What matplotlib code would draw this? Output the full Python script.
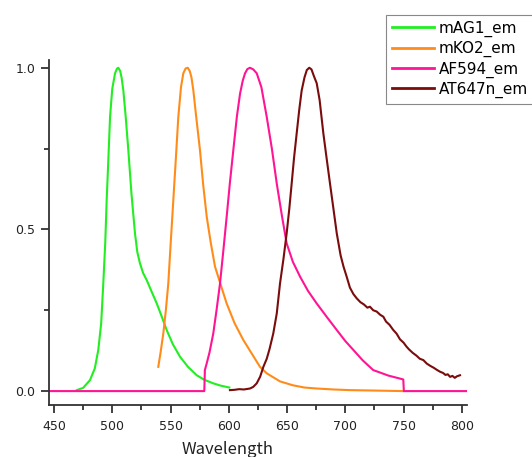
import matplotlib
matplotlib.use("Agg")
import matplotlib.pyplot as plt
from matplotlib.ticker import MultipleLocator

# ---- data ----
mag1_x = [469.5, 475, 480.9, 485, 488, 490.5, 492.3, 494, 495.2, 496.8, 498.1, 500, 502.4, 504, 505.2, 506.8,
          508, 509.5, 511.5, 513.8, 516.5, 519.5, 521.5, 523.8, 526.5, 529.6, 533.5, 538.2, 542, 546.7, 552,
          558.2, 565, 572.5, 579, 586.7, 593, 600.5]
mag1_y = [0.003, 0.01, 0.034, 0.07, 0.127, 0.21, 0.333, 0.46, 0.59, 0.73, 0.848, 0.935, 0.983, 0.997, 1.0, 0.99,
          0.97, 0.93, 0.85, 0.745, 0.61, 0.488, 0.43, 0.395, 0.365, 0.343, 0.31, 0.271, 0.235, 0.189, 0.145,
          0.106, 0.075, 0.049, 0.035, 0.024, 0.017, 0.011]

mko2_x = [539.5, 541.5, 543.8, 546, 548.1, 550.2, 552.4, 554.6, 556.7, 559, 561, 563, 564.8, 566.5, 568,
          569.6, 572, 575.3, 578, 581.1, 584.5, 588.2, 593, 598.2, 605, 612.5, 618.2, 626.8, 632.6, 644,
          655, 665, 675.5, 690, 704, 720, 735, 750]
mko2_y = [0.075, 0.12, 0.178, 0.25, 0.333, 0.46, 0.59, 0.72, 0.848, 0.94, 0.983, 0.998, 1.0, 0.99, 0.97,
          0.93, 0.85, 0.745, 0.64, 0.539, 0.46, 0.385, 0.33, 0.271, 0.21, 0.158, 0.125, 0.075, 0.055, 0.03,
          0.018, 0.011, 0.008, 0.005, 0.003, 0.002, 0.001, 0.0]

af594_x = [446, 579, 579.5, 581.1, 583.5, 586.7, 589.5, 592.5, 595.5, 598.2, 601, 603.9, 607, 609.7, 612,
           614, 616, 618.2, 621, 624, 628, 632.6, 637, 641.2, 645.5, 649.7, 655, 661.2, 668, 675.5, 684,
           692.7, 700, 707, 715, 724, 737, 749.8, 750.3, 805]
af594_y = [0.0, 0.0, 0.065, 0.086, 0.12, 0.178, 0.25, 0.333, 0.44, 0.539, 0.645, 0.745, 0.85, 0.92, 0.96,
           0.983, 0.996, 1.0, 0.995, 0.983, 0.94, 0.848, 0.75, 0.642, 0.545, 0.457, 0.4, 0.354, 0.31, 0.271,
           0.23, 0.189, 0.155, 0.127, 0.095, 0.065, 0.048, 0.036, 0.0, 0.0]

at647_x = [601, 605, 609, 613, 618.2, 621, 624, 627, 629.7, 632.6, 635, 638.2, 641.2, 644, 647, 649.7,
           652, 654, 656, 658.3, 660.5, 662.6, 665, 667, 669.1, 671, 673, 675.5, 678, 681.2, 684, 686.9,
           690, 692.7, 696, 698.5, 701.2, 704, 707, 709.8, 713, 716, 719, 721.2, 724, 727, 730, 732.7,
           735, 738, 741.2, 744, 747, 750, 752.7, 755, 758, 761, 764, 767, 770, 773, 776, 778.5, 781.3,
           784, 786, 788, 790, 792, 794, 796, 798.5]
at647_y = [0.003, 0.004, 0.006, 0.005, 0.008, 0.013, 0.024, 0.045, 0.075, 0.1, 0.13, 0.178, 0.24, 0.333,
           0.41, 0.488, 0.565, 0.642, 0.72, 0.797, 0.87, 0.93, 0.97, 0.993, 1.0, 0.995, 0.975, 0.952,
           0.9, 0.797, 0.72, 0.642, 0.56, 0.488, 0.42, 0.385, 0.354, 0.32, 0.3, 0.287, 0.275, 0.268,
           0.258, 0.261, 0.25, 0.246, 0.236, 0.23, 0.215, 0.205, 0.189, 0.178, 0.16, 0.15, 0.137, 0.128,
           0.118, 0.11, 0.1, 0.096, 0.085, 0.078, 0.072, 0.066, 0.06, 0.056, 0.05, 0.052, 0.044, 0.047,
           0.041, 0.046, 0.049]

labels = ["mAG1_em", "mKO2_em", "AF594_em", "AT647n_em"]
colors = ["#22ee22", "#ff8c1a", "#ff1493", "#7a0c0c"]
xticks = [450, 500, 550, 600, 650, 700, 750, 800]
yticks = [0.0, 0.5, 1.0]

# ---- figure ----
W, H = 532, 457
fig = plt.figure(figsize=(W / 100, H / 100), dpi=100)
L, R, B, T = 49, 467, 405, 60
ax = fig.add_axes([L / W, 1 - B / H, (R - L) / W, (B - T) / H])

series = [(mag1_x, mag1_y), (mko2_x, mko2_y), (af594_x, af594_y), (at647_x, at647_y)]
for (xs, ys), lab, col in zip(series, labels, colors):
    ax.plot(xs, ys, color=col, lw=1.5, label=lab, solid_joinstyle="round")

ax.set_xlim(445.7, 804.5)
ax.set_ylim(-0.043, 1.024)
ax.set_xticks(xticks)
ax.set_yticks(yticks)
ax.set_yticklabels([f"{v:.1f}" for v in yticks])
ax.xaxis.set_minor_locator(MultipleLocator(25))
ax.yaxis.set_minor_locator(MultipleLocator(0.25))

for s in ["top", "right"]:
    ax.spines[s].set_visible(False)
for s in ["left", "bottom"]:
    ax.spines[s].set_linewidth(1.3)
    ax.spines[s].set_color("#333333")

fam = ["DejaVu Sans"]
ax.tick_params(axis="both", which="major", direction="out", length=5.8, width=1.3,
               colors="#333333", labelsize=9, labelcolor="#222222")
ax.tick_params(axis="both", which="minor", direction="out", length=3.4, width=1.3, colors="#333333")
ax.tick_params(axis="x", which="major", pad=5)
ax.tick_params(axis="y", which="major", pad=4)
for lab in ax.get_xticklabels() + ax.get_yticklabels():
    lab.set_family(fam)

fig.text(228 / W, 1 - 454 / H, "Wavelength", ha="center", va="baseline",
         fontsize=12, family=["Noto Sans CJK JP", "DejaVu Sans"], color="#222222")

leg = fig.legend(loc="upper left", bbox_to_anchor=(386 / W, 1 - 15 / H), borderaxespad=0,
                 frameon=True, fancybox=False, framealpha=1, edgecolor="#888888",
                 prop={"family": fam, "size": 11}, handlelength=2.75, handletextpad=0.33,
                 labelspacing=0.27, borderpad=0.38)
leg.get_frame().set_linewidth(0.8)
for line in leg.get_lines():
    line.set_linewidth(2.0)

fig.savefig("out.png", dpi=100)
